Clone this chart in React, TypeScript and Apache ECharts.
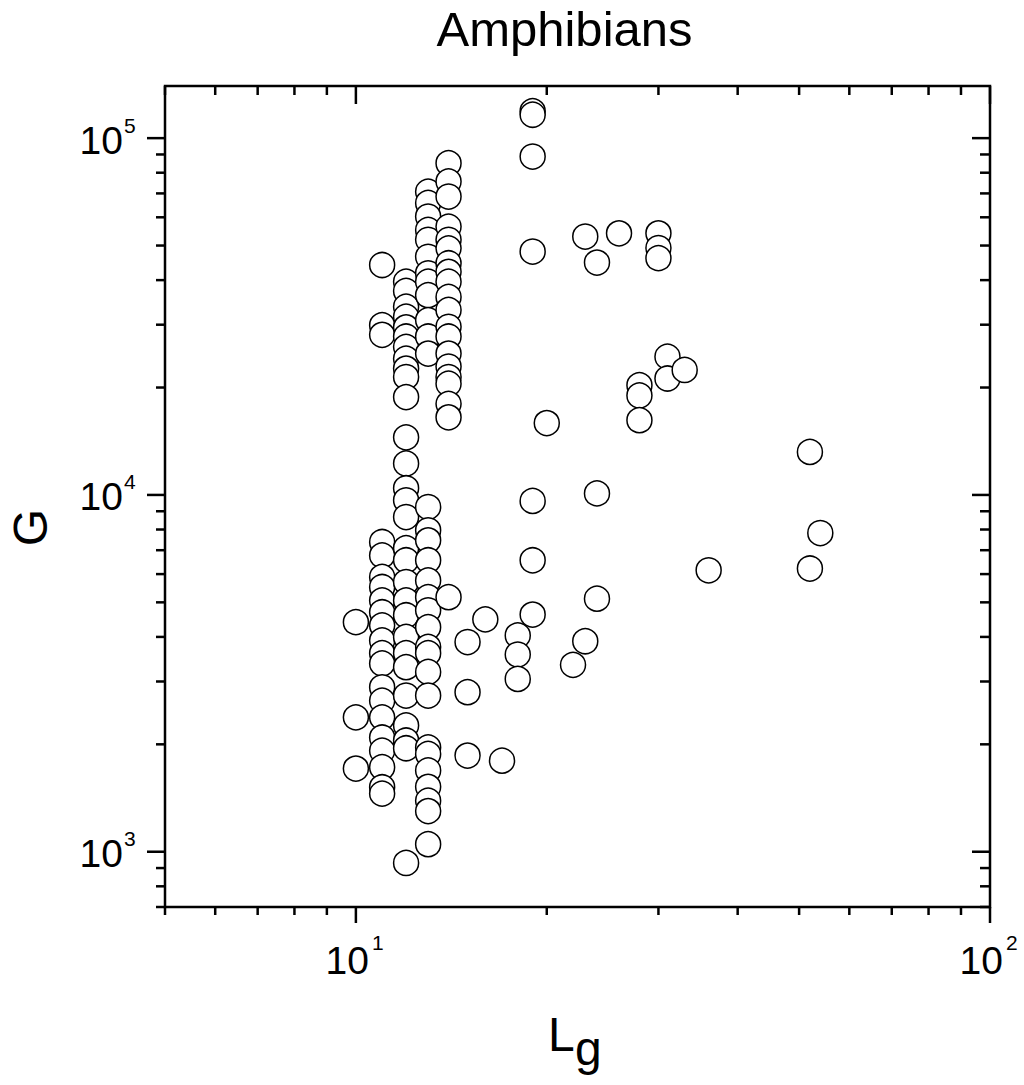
import React, { useEffect, useRef } from 'react';
import * as echarts from 'echarts';

// ---- axis ranges & ticks ----
const X_MIN = 5;
const X_MAX = 100;
const Y_MIN = 700;
const Y_MAX = 140000;
const xMajorTicks = [10, 100];
const xMajorLabels = [['10', '1'], ['10', '2']];
const xMinorTicks = [5, 6, 7, 8, 9, 20, 30, 40, 50, 60, 70, 80, 90];
const yMajorTicks = [1000, 10000, 100000];
const yMajorLabels = [['10', '3'], ['10', '4'], ['10', '5']];
const yMinorTicks = [700, 800, 900, 2000, 3000, 4000, 5000, 6000, 7000, 8000, 9000,
  20000, 30000, 40000, 50000, 60000, 70000, 80000, 90000];

// ---- data: G values per Lg ----
const col10 = [4400, 2380, 1710];
const col11 = [44100, 29900, 28100, 7380, 6770, 5890, 5520, 5060, 4690, 4310, 3910, 3600, 3370, 2890, 2650, 2380, 2090, 1920, 1725, 1516, 1455];
const col12 = [39600, 37300, 33700, 31600, 29500, 27800, 26000, 24100, 22600, 21400, 18800, 14500, 12250, 10440, 9660, 8670, 7090, 6560, 5700, 5060, 4600, 4000, 3600, 3290, 2740, 2260, 2050, 1950, 930];
const col13 = [70800, 65800, 60300, 55300, 51900, 46500, 41800, 39600, 36300, 30900, 27800, 24900, 9250, 7960, 7460, 6560, 5760, 5170, 4750, 4260, 3750, 3600, 3190, 2740, 1960, 1880, 1690, 1520, 1390, 1300, 1050];
const col14 = [85100, 75600, 68600, 56500, 51900, 49100, 44600, 42200, 39600, 35900, 33000, 29600, 27800, 24900, 22900, 21400, 20500, 18000, 16500, 5170];
const col15 = [3870, 2800, 1860];
const col16 = [4480];
const col17 = [1800];
const col18 = [4040, 3570, 3050];
const col19 = [119000, 116300, 88800, 48100, 9620, 6560, 4620];
const col20 = [15900];
const col22 = [3340];
const col23 = [53000, 3890];
const col24 = [44800, 10100, 5120];
const col26 = [54100];
const col28 = [20300, 19000, 16200];
const col30 = [54100, 49200, 46100];
const col31 = [24400, 21200];
const col33 = [22400];
const col36 = [6150];
const col52 = [13200, 6220];
const col54 = [7820];

const columns: [number, number[]][] = [
  [10, col10], [11, col11], [12, col12], [13, col13], [14, col14], [15, col15],
  [16, col16], [17, col17], [18, col18], [19, col19], [20, col20], [22, col22],
  [23, col23], [24, col24], [26, col26], [28, col28], [30, col30], [31, col31],
  [33, col33], [36, col36], [52, col52], [54, col54],
];

const FONT = '"Liberation Sans", Arial, Helvetica, sans-serif';
const TICK_W = 2.5;

function txt(text: string, x: number, y: number, size: number, align: string, valign: string, extra: any = {}) {
  return {
    type: 'text',
    x, y,
    ...extra,
    style: {
      text,
      fill: '#000',
      font: `${size}px ${FONT}`,
      align, verticalAlign: valign,
      textAlign: align, textVerticalAlign: valign,
    },
  };
}

export default function App() {
  const ref = useRef<HTMLDivElement>(null);
  useEffect(() => {
    if (!ref.current) return;
    const chart = echarts.init(ref.current, undefined, { renderer: 'svg' });

    const scatterData = columns.flatMap(([lg, arr]) => arr.map((g) => [lg, g]));
    const xTickData = [
      ...xMajorTicks.map((v) => [v, Y_MIN, 1]),
      ...xMinorTicks.map((v) => [v, Y_MIN, 0]),
    ];
    const yTickData = [
      ...yMajorTicks.map((v) => [X_MIN, v, 1]),
      ...yMinorTicks.map((v) => [X_MIN, v, 0]),
    ];
    const lineStyle = { stroke: '#000', lineWidth: TICK_W };

    chart.setOption({
      animation: false,
      backgroundColor: '#fff',
      grid: {
        left: 165, right: 34, top: 86, bottom: 178,
        show: true, borderColor: '#000', borderWidth: 2.5, backgroundColor: 'transparent',
      },
      xAxis: {
        type: 'log', logBase: 10, min: X_MIN, max: X_MAX,
        axisLine: { show: false }, axisTick: { show: false },
        axisLabel: { show: false }, splitLine: { show: false },
      },
      yAxis: {
        type: 'log', logBase: 10, min: Y_MIN, max: Y_MAX,
        axisLine: { show: false }, axisTick: { show: false },
        axisLabel: { show: false }, splitLine: { show: false },
      },
      graphic: [
        txt('Amphibians', 564.5, 29, 49, 'center', 'middle'),
        txt('G', 30, 527.5, 48, 'center', 'middle', { rotation: Math.PI / 2 }),
        txt('L', 548, 1034, 48, 'left', 'middle'),
        txt('g', 575, 1048, 48, 'left', 'middle'),
      ],
      series: [
        {
          type: 'scatter',
          data: scatterData,
          symbol: 'circle',
          symbolSize: 25,
          itemStyle: { color: '#fff', borderColor: '#000', borderWidth: 1.5, opacity: 1 },
          emphasis: { disabled: true },
          z: 2,
        },
        {
          type: 'custom',
          data: xTickData,
          clip: false,
          silent: true,
          z: 5,
          renderItem: (params: any, api: any) => {
            const v = api.value(0);
            const major = api.value(2) === 1;
            const b = api.coord([v, Y_MIN]);
            const t = api.coord([v, Y_MAX]);
            const children: any[] = [
              { type: 'line', shape: { x1: b[0], y1: b[1], x2: b[0], y2: b[1] + (major ? 16 : 8) }, style: lineStyle },
              { type: 'line', shape: { x1: t[0], y1: t[1], x2: t[0], y2: t[1] + (major ? 18 : 9) }, style: lineStyle },
            ];
            if (major) {
              const lab = xMajorLabels[params.dataIndex];
              children.push(txt(lab[0], b[0] + 13, b[1] + 53, 39, 'right', 'middle'));
              children.push(txt(lab[1], b[0] + 16, b[1] + 35, 21, 'left', 'middle'));
            }
            return { type: 'group', children };
          },
        },
        {
          type: 'custom',
          data: yTickData,
          clip: false,
          silent: true,
          z: 5,
          renderItem: (params: any, api: any) => {
            const v = api.value(1);
            const major = api.value(2) === 1;
            const l = api.coord([X_MIN, v]);
            const r = api.coord([X_MAX, v]);
            const children: any[] = [
              { type: 'line', shape: { x1: l[0] - (major ? 18 : 9), y1: l[1], x2: l[0], y2: l[1] }, style: lineStyle },
              { type: 'line', shape: { x1: r[0] - (major ? 18 : 10), y1: r[1], x2: r[0], y2: r[1] }, style: lineStyle },
            ];
            if (major) {
              const lab = yMajorLabels[params.dataIndex];
              children.push(txt(lab[0], l[0] - 42, l[1] + 2, 39, 'right', 'middle'));
              children.push(txt(lab[1], l[0] - 41, l[1] - 13, 21, 'left', 'middle'));
            }
            return { type: 'group', children };
          },
        },
      ],
    });
    return () => chart.dispose();
  }, []);

  return (
    <div
      ref={ref}
      style={{ position: 'fixed', left: 0, top: 0, width: 1024, height: 1085, background: '#fff' }}
    />
  );
}
